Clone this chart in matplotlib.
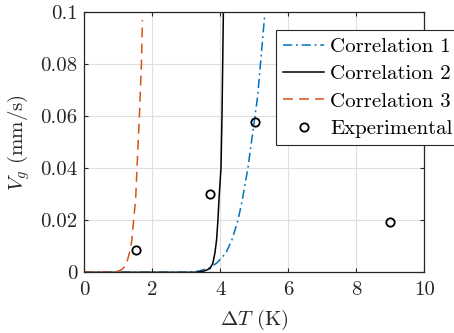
import matplotlib
matplotlib.use("Agg")
import matplotlib.pyplot as plt

# ---- data ----
corr1_x = [0, 3.0, 3.26, 3.40, 3.65, 3.89, 4.16, 4.34, 4.52, 4.65, 4.81, 5.02, 5.10, 5.18, 5.30]
corr1_y = [0, 0, 0.0002, 0.0006, 0.0015, 0.0035, 0.0073, 0.0124, 0.020, 0.028, 0.040, 0.060, 0.068, 0.080, 0.098]

corr2_x = [0, 3.2, 3.35, 3.55, 3.70, 3.78, 3.84, 3.89, 3.93, 3.96, 4.02, 4.05, 4.07, 4.09, 4.11]
corr2_y = [0, 0, 0.0001, 0.0006, 0.0015, 0.0035, 0.0073, 0.0124, 0.020, 0.0278, 0.040, 0.060, 0.080, 0.100, 0.120]

corr3_x = [0, 0.9, 0.96, 1.09, 1.19, 1.27, 1.35, 1.40, 1.45, 1.51, 1.55, 1.62, 1.68, 1.71]
corr3_y = [0, 0, 0.0003, 0.0009, 0.0022, 0.0047, 0.0086, 0.0124, 0.020, 0.028, 0.040, 0.060, 0.080, 0.097]

exp_x = [1.51, 3.70, 5.01, 9.0]
exp_y = [0.0084, 0.0301, 0.0579, 0.0192]

series_labels = ["Correlation 1", "Correlation 2", "Correlation 3", "Experimental"]
x_ticks = [0, 2, 4, 6, 8, 10]
y_ticks = [0, 0.02, 0.04, 0.06, 0.08, 0.1]
y_tick_labels = ["0", "0.02", "0.04", "0.06", "0.08", "0.1"]

plt.rcParams["font.family"] = ["cmr10", "DejaVu Serif"]
plt.rcParams["mathtext.fontset"] = "cm"
plt.rcParams["axes.unicode_minus"] = False
plt.rcParams["axes.formatter.use_mathtext"] = True

W, H = 454, 333
fig = plt.figure(figsize=(W / 100, H / 100), dpi=100)
ax = fig.add_axes([84.3 / W, 1 - 272.3 / H, (424.3 - 84.3) / W, (272.3 - 12.3) / H])

blue = "#0072BD"
orange = "#D95319"
dark = "#262626"

ax.plot(corr1_x, corr1_y, color=blue, lw=1.1, dashes=(6, 2.5, 1.2, 2.5), label=series_labels[0])
ax.plot(corr2_x, corr2_y, color="black", lw=1.1, label=series_labels[1])
ax.plot(corr3_x, corr3_y, color=orange, lw=1.1, dashes=(6.5, 4), label=series_labels[2])
ax.plot(exp_x, exp_y, linestyle="none", marker="o", ms=6, mfc="none", mec="black",
        mew=1.3, label=series_labels[3])

ax.set_xlim(0, 10)
ax.set_ylim(0, 0.1)
ax.set_xticks(x_ticks)
ax.set_xticklabels([str(t) for t in x_ticks])
ax.set_yticks(y_ticks)
ax.set_yticklabels(y_tick_labels)

ax.grid(True, color="#dfdfdf", lw=0.8)
ax.set_axisbelow(True)
for s in ax.spines.values():
    s.set_color(dark)
    s.set_linewidth(0.9)
ax.tick_params(direction="in", length=3, width=0.8, colors=dark, labelsize=15,
               top=True, right=True, pad=6)
ax.tick_params(axis="y", pad=5)

ax.set_xlabel(r"$\Delta T$ (K)", fontsize=15, color=dark, labelpad=7)
ax.set_ylabel(r"$V_g$ (mm/s)", fontsize=15, color=dark, labelpad=6)

leg = ax.legend(loc="upper left", bbox_to_anchor=(276 / W, 1 - 30 / H),
                bbox_transform=fig.transFigure, borderaxespad=0, fontsize=15,
                fancybox=False, framealpha=1, edgecolor=dark, handlelength=1.95,
                handletextpad=0.3, labelspacing=0.42, borderpad=0.35)
leg.get_frame().set_linewidth(0.8)

fig.savefig("out.png", dpi=100)
